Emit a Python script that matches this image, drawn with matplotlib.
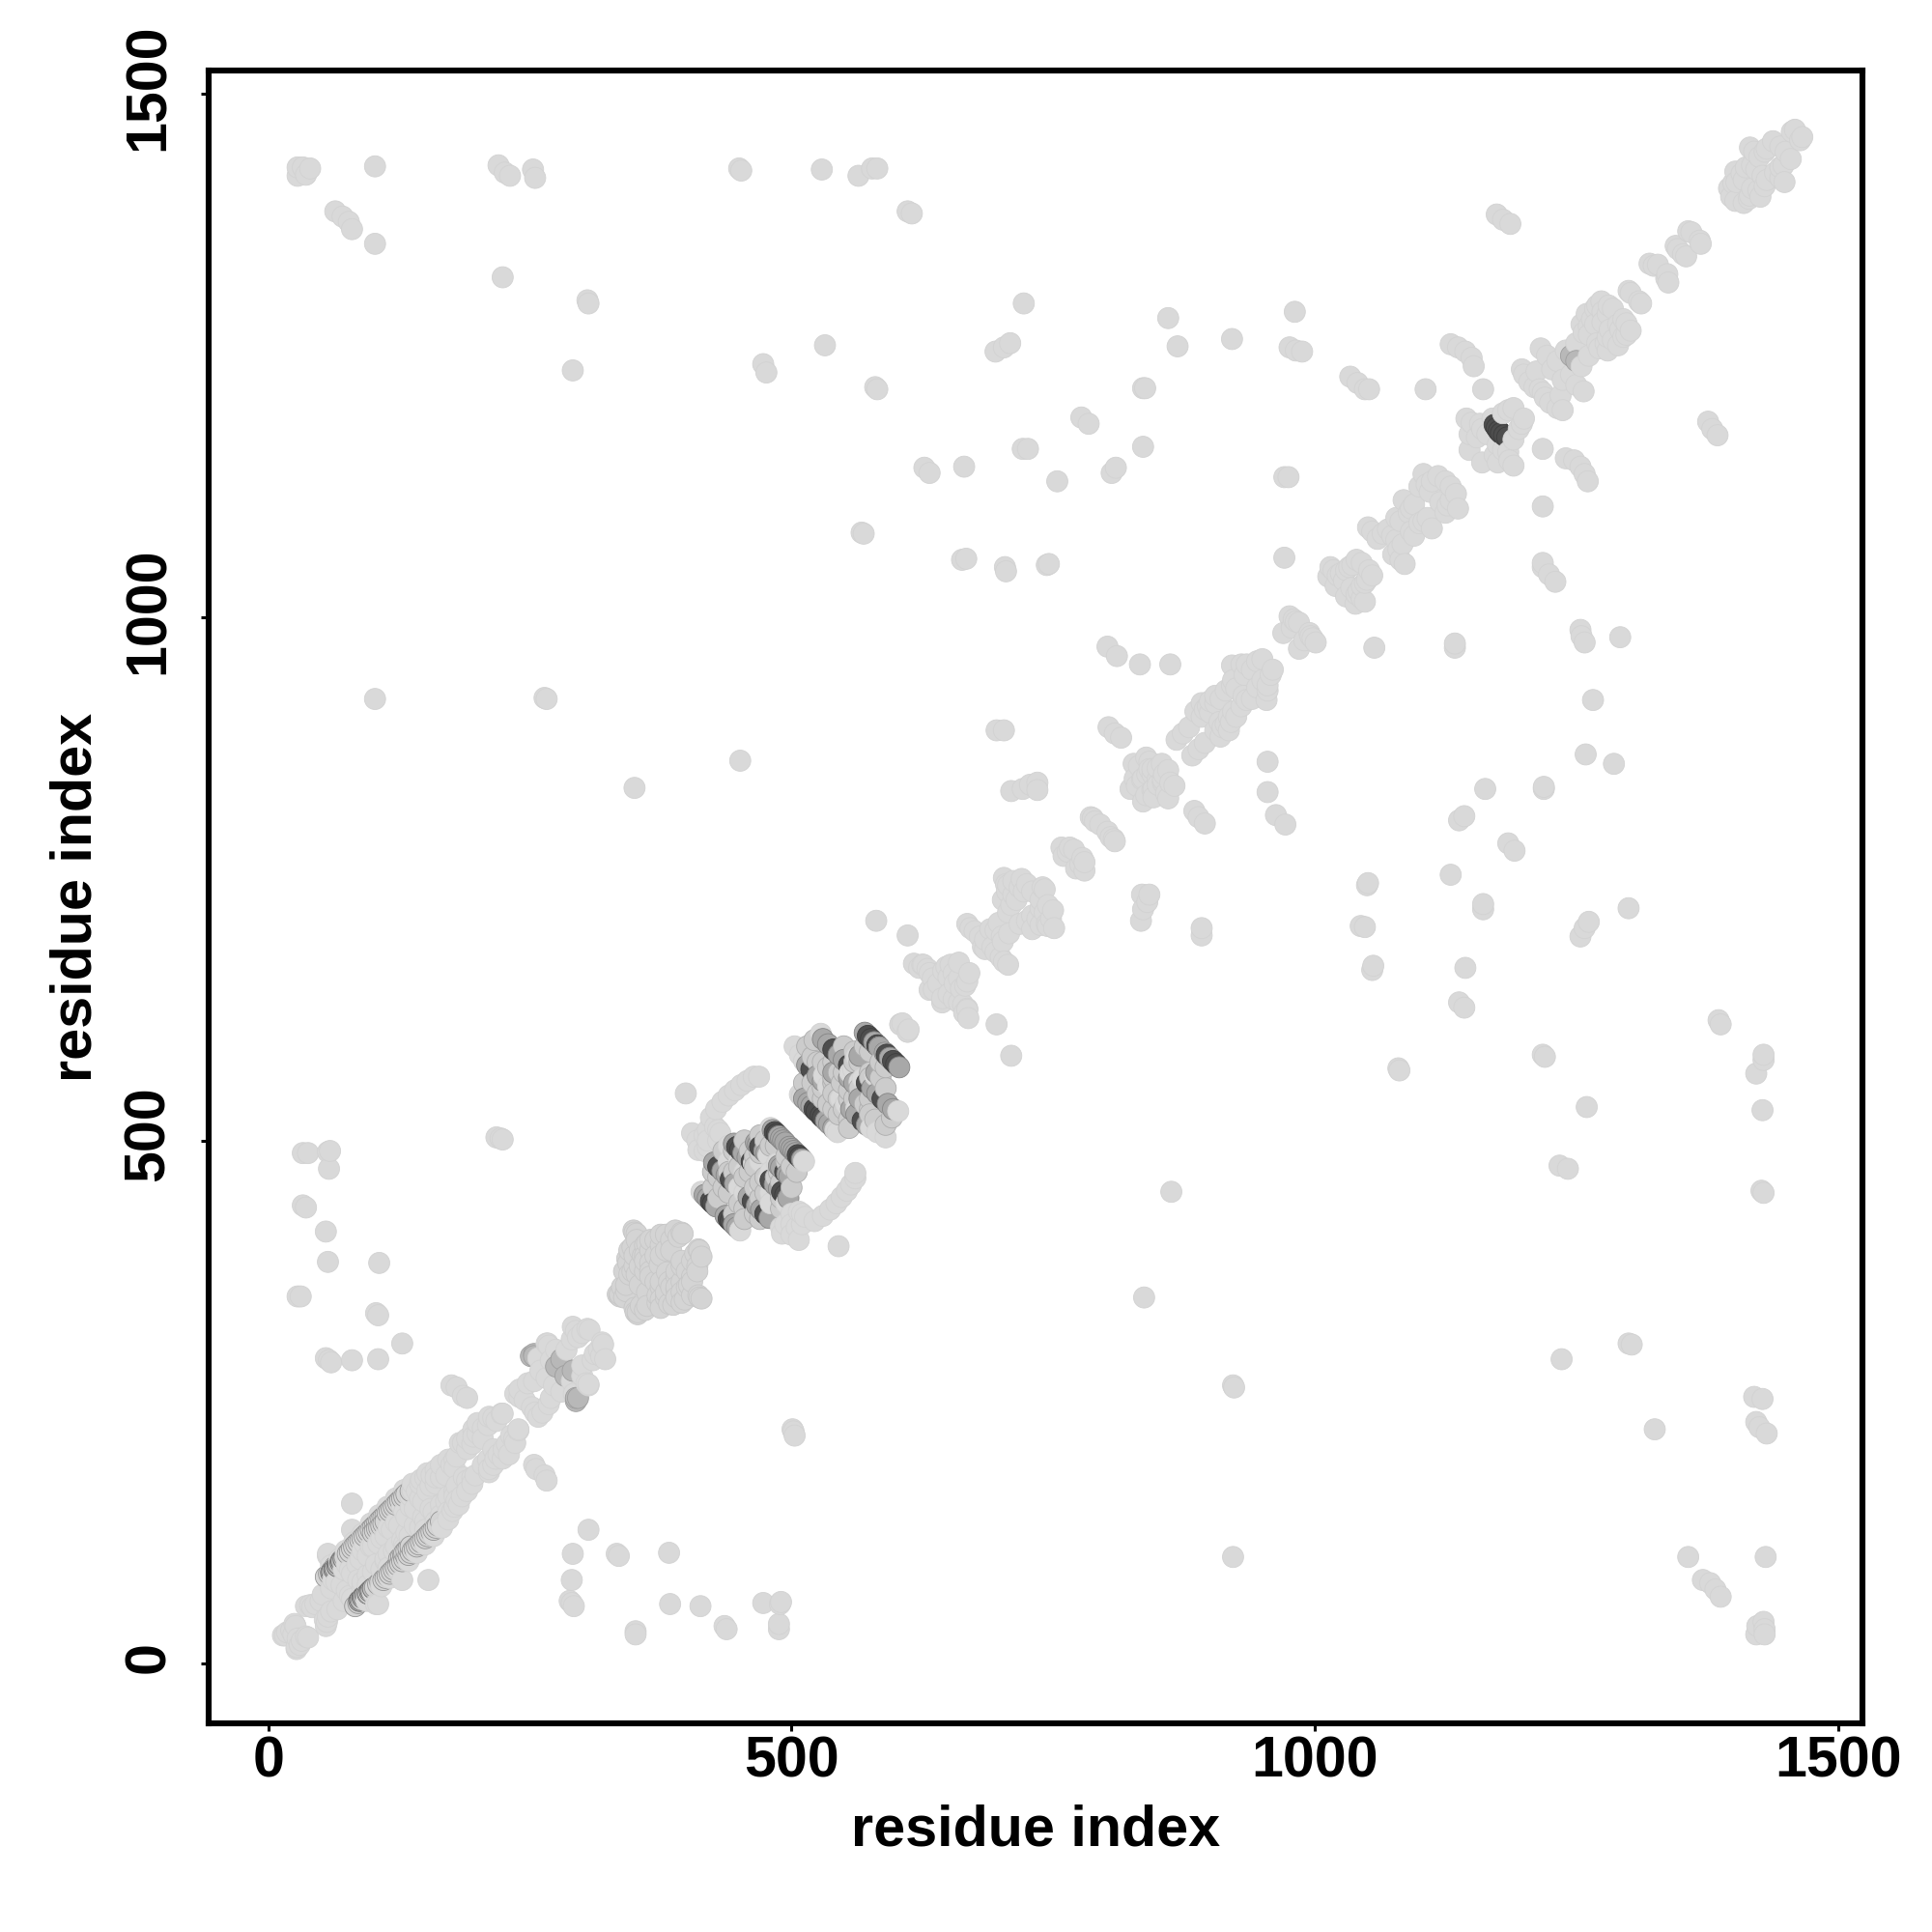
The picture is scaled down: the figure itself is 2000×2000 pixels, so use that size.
import numpy as np
import matplotlib
matplotlib.use('Agg')
import matplotlib.pyplot as plt
from matplotlib.transforms import ScaledTranslation

plt.rcParams['font.family'] = ['Liberation Sans', 'DejaVu Sans']
plt.rcParams['font.weight'] = 'bold'

# contacts are (i, j) with i < j, the map is symmetric so both halves get drawn
far_contacts = [(28,1422),(33,1430),(40,1429),(28,1430),(36,1423),(102,1431),(220,1432),(226,1425),(231,1422),
    (253,1428),(255,1420),(450,1429),(452,1427),(529,1428),(564,1422),(577,1429),(582,1429),(611,1388),(615,1386),
    (64,1388),(71,1383),(77,1378),(80,1371),(102,1357),(224,1325),(305,1303),(306,1300),(291,1236),(473,1242),
    (476,1234),(532,1260),(580,1220),(582,1218),(695,1254),(703,1258),(709,1262),(722,1300),(860,1286),(869,1259),
    (921,1266),(981,1292),(976,1258),(982,1255),(988,1254),(1034,1230),(1041,1224),(1048,1218),(1052,1218),
    (1106,1218),(1161,1218),(1130,1261),(1137,1258),(1144,1254),(1150,1248),(1152,1240),(1174,1385),(1180,1380),(1187,1376),
    (777,1191),(784,1185),(836,1219),(838,1219),(721,1161),(726,1161),(836,1163),(754,1130),(627,1143),(632,1138),
    (665,1144),(806,1138),(810,1143),(567,1081),(569,1080),(663,1055),(667,1056),(704,1048),(705,1044),(746,1051),
    (744,1050),(971,1134),(975,1134),(971,1057),(802,972),(811,963),(833,955),(862,955),(102,922),(266,922),(264,923),
    (696,892),(703,892),(803,895),(809,889),(815,885),(350,837),(451,863),(710,834),(721,836),(735,842),(728,840),
    (735,835),(581,710),(611,696),(218,503),(224,501),(222,502),(105,291),(128,306),(105,333),(103,335),(106,383),
    (80,290),(58,290),(55,292),(60,288),(57,384),(55,413),(33,438),(36,436),(31,351),(28,351),(58,473),(57,489),
    (33,488),(38,488),(59,490),(399,545),(175,266),(180,264),(186,256),(190,254)]

band_start = [(14,27),(16,27),(18,30),(22,32),(26,36),(24,28),(25,38),(36,55),(42,54),(45,57),(50,60),(52,66),(40,56),
    (57,103),(80,128),(80,153),(57,105)]

band_fill = [(60,72),(65,78),(70,75),(72,90),(78,90),(80,86),(85,95),(88,100),(90,108),(95,103),(98,112),(100,112),
    (105,115),(108,120),(112,122),(115,130),(118,128),(122,135),(125,132),(130,145),(132,140),(136,150),(140,148),
    (145,158),(148,155),(152,165),(155,170),(160,172),(165,178),(170,180),(175,190),(178,195),(160,185),(150,178),
    (145,172),(138,165),(165,190),(178,187),(180,198),(190,205),(172,195),(62,80),(75,95),(92,115),(110,130),(128,150),
    (142,165),(156,180),(160,178),(136,160),(60,94),(68,100),(74,108),(82,116),(90,124),(98,134),(106,142),(114,150),
    (122,158),(130,166),(138,172),(146,176),(152,182)]

band_rim = [(55,83),(58,86),(61,89),(64,93),(67,96),(70,99),(73,102),(76,105),(78,107),(80,110),(82,112),(84,114),
    (86,116),(88,118),(90,120),(92,122),(94,124),(96,126),(98,128),(100,130),(102,132),(104,134),(106,136),(108,138),
    (110,140),(112,142),(114,144),(116,146),(118,148),(120,150),(122,152),(124,154),(126,156),(128,158),(130,160),
    (132,162),(136,165),(100,125),(102,127),(104,129),(106,130),(108,132),(110,134),(112,136)]

band_rim_dark = [(60,87),(61,88),(63,90),(64,91),(66,93),(67,95),(69,97),(70,98),(72,100)]

region_200 = [(183,211),(196,224),(211,236),(223,239),(224,239),(196,217),(186,211),(190,215),(200,220),(205,225),
    (200,230),(210,228),(195,210),(205,215),(215,235),(218,232),(236,258),(240,255),(245,252),(258,292),(266,306),
    (268,304),(291,322),(305,320),(307,319),(266,273),(254,270),(260,280),(270,290),(275,300),(285,300),(290,310),
    (296,312),(267,306),(240,262),(248,268),(294,318),(300,316)]
region_200_mid = [(251,294),(254,296),(254,294),(280,291),(275,284)]

region_350 = [(336,351),(334,353),(340,350),(342,356),(349,414),(352,411),(389,414),(395,412),(396,411),(350,412),
    (344,383),(343,387),(362,402),(365,395),(374,381),(365,383),(355,362),(336,353),(360,375),(350,380),(358,390),
    (345,372),(342,362),(370,405),(375,400),(380,410),(385,405),(392,408),(348,398),(338,360),(352,405),(360,400),
    (355,380),(365,375),(370,390),(375,390),(380,395),(385,395),(360,390),(355,395),(350,390),(365,405),(375,410),
    (345,395),(360,385),(352,372),(348,375),(365,370),(340,375)]

hairpin_light = [(480,512),(414,451),(420,510),(405,507),(411,491),(420,494),(432,507),(430,500),(440,495),(423,522),
    (428,530),(434,537),(440,543),(446,548),(452,553),(458,557),(464,561),(469,561),(417,505),(420,500),(430,510),
    (417,490),(410,500),(427,513),(508,544),(503,590),(508,582),(512,576),(531,562),(580,562),(604,611),(606,612),
    (510,542),(528,602),(565,556),(478,486),(450,455),(464,478),(584,589),(540,547),(559,568),(535,552),(450,480),
    (440,480),(455,470),(470,480)]
hairpin_fill = [(455,500),(460,490),(465,485),(435,490),(440,470),(445,470),(450,475),(455,465),(460,470),(430,465),
    (435,455),(440,450),(425,455),(430,445),(425,470),(475,500),(480,495),(470,505),(485,495),
    (445,490),(470,488),(465,475),(520,580),(530,575),(540,575),(550,590),(560,585),(570,590),
    (575,585),(565,575),(560,575),(545,565),(535,570),(525,575),(520,555),(525,545),(530,540),(535,535),(540,555),
    (550,565),(555,548),(560,540),(545,540),(550,530),(515,590),(522,596),(512,555)]
hairpin_mid = [(482,510),(488,504),(490,502),(492,500),(494,498),(466,498),(468,496),(474,490),(476,488),(445,497),
    (454,488),(458,484),(426,479),(434,471),(438,467),(446,459),(417,448),(420,445),(428,437),(570,603),(579,594),
    (584,589),(530,597),(535,592),(545,582),(550,577),(515,572),(525,562),(530,557),(512,540),(516,536),(519,533),
    (565,581),(540,565),(555,560)]
hairpin_dark = [(484,508),(486,506),(470,494),(448,494),(451,491),(462,480),(430,475),(442,463),(423,442),(425,440),
    (573,600),(576,597),(582,591),(540,587),(555,572),(519,568),(522,530),(524,528)]

region_620 = [(604,611),(617,669),(622,665),(626,668),(632,660),(635,655),(632,644),(636,644),(648,666),(650,656),
    (640,650),(645,662),(625,668),(630,664),(655,660),(652,668),(660,670),(668,707),(671,703),(675,700),(680,695),
    (683,685),(685,692),(690,702),(695,701),(698,708),(703,751),(705,745),(707,744),(718,742),(722,738),(740,742),
    (715,730),(710,725),(707,718),(712,735),(725,745),(730,738),(720,750),(702,730),(706,738),(712,748)]

region_760 = [(758,780),(766,780),(760,772),(764,776),(770,778),(786,809),(790,805),(795,802),(788,808),(827,860),
    (832,858),(839,866),(842,862),(824,836),(830,839),(835,845),(842,855),(845,850),(850,856),(854,860),(836,846),
    (840,850),(845,855),(828,846)]

region_870 = [(868,883),(874,889),(880,895),(892,918),(895,912),(900,909),(905,918),(910,922),(921,935),(925,932),
    (933,945),(940,950),(921,954),(930,955),(945,958),(892,905),(900,920),(886,910),(898,915),(915,930),(905,925),
    (922,940),(935,955),(950,960),(976,1001),(980,998),(985,995),(978,990),(970,985),(982,996)]

region_1015 = [(1015,1048),(1018,1045),(1013,1039),(1022,1040),(1028,1035),(1033,1048),(1036,1050),(1020,1030),
    (1025,1042),(1030,1045),(1040,1055),(1045,1052),(1051,1086),(1055,1082),(1065,1080),(1070,1084),(1074,1078),
    (1082,1092),(1090,1100),(1092,1104),(1095,1108),(1104,1137),(1107,1127),(1110,1120),(1112,1130),(1100,1125),
    (1118,1135),(1125,1130),(1060,1075),(1078,1095),(1085,1112)]

region_1150 = [(1145,1190),(1150,1186),(1148,1160),(1155,1172),(1160,1180),(1165,1175),(1170,1190),(1180,1195),
    (1185,1198),(1190,1200),(1158,1185),(1148,1175),(1198,1237),(1200,1232),(1205,1225),(1210,1220),(1215,1218),
    (1212,1235),(1216,1257),(1222,1250),(1227,1237),(1232,1245),(1240,1255),(1250,1262),(1257,1272),(1260,1290),
    (1265,1285),(1270,1298),(1274,1302),(1281,1298),(1275,1292),(1280,1290),(1255,1280),(1262,1278),(1268,1295),
    (1285,1295),(1262,1270),(1268,1280),(1275,1282),(1300,1312),(1302,1310),(1320,1338),(1324,1336),(1328,1337),
    (1345,1355),(1347,1352),(1357,1369),(1360,1368),(1396,1410),(1398,1402),(1400,1415),(1403,1416),(1410,1418),
    (1402,1426),(1416,1449),(1420,1445),(1425,1440),(1430,1445),(1432,1448),(1445,1450),(1438,1455),(1459,1466),
    (1456,1464),(1412,1430),(1418,1432),(1408,1424),(1422,1428)]
region_1150_mid = [(1245,1250)]
region_1150_dark = [(1174,1181),(1176,1178),(1172,1184)]

tick_values = [0, 500, 1000, 1500]

# (pairs, face grey, edge grey)
groups = [
    (far_contacts + band_start + band_fill + region_200 + hairpin_light + region_620 + region_760 + region_870
     + region_1015 + region_1150, 0.85, 0.825),
    (region_350, 0.83, 0.78),
    (hairpin_fill, 0.8, 0.68),
    (band_rim, 0.83, 0.58),
    (region_200_mid + region_1150_mid, 0.72, 0.62),
    (hairpin_mid, 0.66, 0.52),
    (band_rim_dark, 0.74, 0.42),
    (hairpin_dark + region_1150_dark, 0.3, 0.24),
]

xs, ys, faces, edges = [], [], [], []
for pairs, face, edge in groups:
    for i, j in pairs:
        xs += [i, j]
        ys += [j, i]
        faces += [face, face]
        edges += [edge, edge]
xs = np.array(xs, dtype=float)
ys = np.array(ys, dtype=float)
faces = np.array(faces)
edges = np.array(edges)
# draw left to right so lighter discs sit on the darker ones
order = np.argsort(xs, kind='stable')

fig = plt.figure(figsize=(10, 10), dpi=200)
ax = fig.add_axes([216 / 2000, 1 - 1784 / 2000, (1928 - 216) / 2000, (1784 - 73) / 2000])
ax.scatter(xs[order], ys[order], s=62,
           c=np.repeat(faces[order][:, None], 3, axis=1),
           edgecolors=np.repeat(edges[order][:, None], 3, axis=1), linewidths=0.3)

ax.set_xlim(-57, 1523.5)
ax.set_ylim(-57, 1522.6)
ax.set_xticks(tick_values)
ax.set_yticks(tick_values)
ax.tick_params(length=3, width=1.1, labelsize=21.3)
ax.tick_params(axis='x', pad=1.5)
ax.tick_params(axis='y', pad=9.3)
up = ScaledTranslation(0, 7 / 200, fig.dpi_scale_trans)
for lab in ax.get_yticklabels():
    lab.set_rotation(90)
    lab.set_va('center')
    lab.set_transform(lab.get_transform() + up)
for s in ax.spines.values():
    s.set_linewidth(2.2)
ax.set_xlabel('residue index', fontsize=21.4, fontweight='bold', labelpad=5.8)
ax.set_ylabel('residue index', fontsize=21.4, fontweight='bold', labelpad=7.3)

fig.savefig('out.png', dpi=200)
